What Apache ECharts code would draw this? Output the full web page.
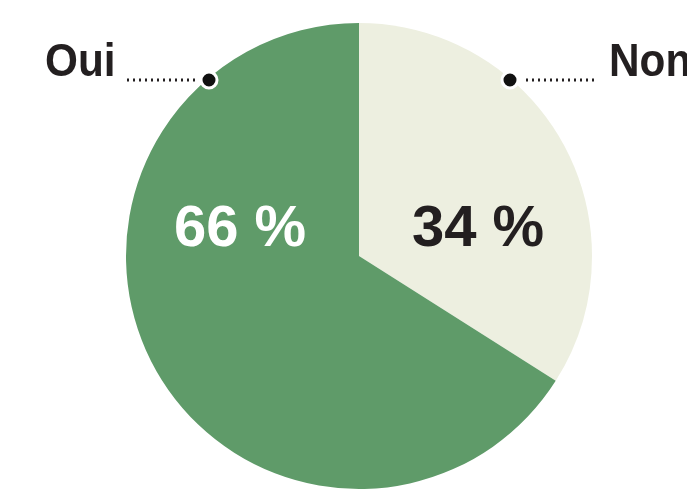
<!DOCTYPE html>
<html><head><meta charset="utf-8">
<script src="https://cdn.jsdelivr.net/npm/echarts@6/dist/echarts.min.js"></script>
<style>html,body{margin:0;padding:0;background:#fff}#c{width:687px;height:490px}</style>
</head><body><div id="c"></div>
<script>
const categories = ['Non', 'Oui'];
const values = [34, 66];
const colors = ['#edefe0', '#5f9b69'];
const labelColors = ['#231f20', '#ffffff'];

const chart = echarts.init(document.getElementById('c'), null, {renderer: 'canvas'});
const cx = 359, cy = 256, r = 233;
const innerPos = [[478, 230], [240, 230]];

const data = categories.map((name, i) => ({
  name, value: values[i],
  itemStyle: {color: colors[i]},
  label: {color: labelColors[i]}
}));

function dotted(x1, x2, y) {
  return {type: 'line', shape: {x1, y1: y, x2, y2: y},
    style: {stroke: '#231f20', lineWidth: 3, lineDash: [2, 4], lineCap: 'butt'}, z: 10};
}
function dot(x, y) {
  return {type: 'circle', shape: {cx: x, cy: y, r: 8},
    style: {fill: '#111', stroke: '#fff', lineWidth: 3}, z: 11};
}
function outerText(text, x) {
  return {type: 'text', x, y: 40, scaleX: 0.92, z: 12,
    style: {text, x: 0, y: 0, textAlign: 'left', textVerticalAlign: 'top',
      fontFamily: 'Liberation Sans, Arial, sans-serif', fontWeight: 'bold', fontSize: 46, fill: '#231f20'}};
}

chart.setOption({
  animation: false,
  series: [{
    type: 'pie',
    center: [cx, cy],
    radius: [0, r],
    startAngle: 90,
    clockwise: true,
    data,
    itemStyle: {borderWidth: 0, borderColor: 'transparent'},
    label: {
      show: true, position: 'inside',
      formatter: p => p.value + ' %',
      fontFamily: 'Liberation Sans, Arial, sans-serif',
      fontWeight: 'bold', fontSize: 58
    },
    labelLine: {show: false},
    labelLayout: p => ({x: innerPos[p.dataIndex][0], y: innerPos[p.dataIndex][1], align: 'center', verticalAlign: 'middle'}),
    emphasis: {disabled: true}
  }],
  graphic: [
    dotted(127, 195, 80),
    dot(209, 80),
    outerText(categories[1], 45),
    dotted(526, 594, 80),
    dot(510, 80),
    outerText(categories[0], 609)
  ]
});
</script></body></html>
